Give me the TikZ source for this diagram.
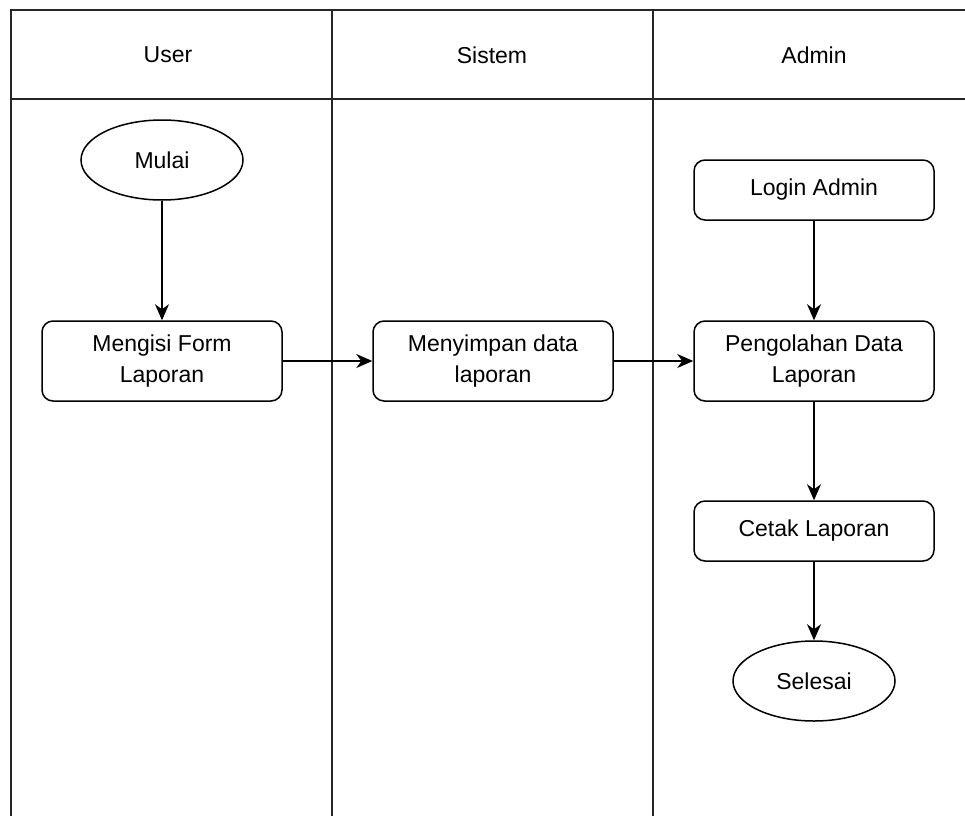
\documentclass[tikz,border=0pt]{standalone}
\usepackage{fontspec}
\setmainfont{Liberation Sans}
\usetikzlibrary{arrows.meta,shapes.geometric}
\begin{document}
\begin{tikzpicture}[x=1pt,y=-1pt,
  font=\fontsize{23}{31}\selectfont,
  lane/.style={line width=1.8pt,black!85},
  procbox/.style={draw,line width=1.5pt,rounded corners=11pt,minimum width=240pt,inner sep=0pt,align=center},
  termnode/.style={draw,ellipse,line width=1.5pt,minimum width=162pt,minimum height=80pt,inner sep=0pt},
  flow/.style={line width=1.5pt,-{Stealth[length=16pt,width=14pt,inset=5pt]}}]
\useasboundingbox (0,0) rectangle (965,816);
% swimlane frame
\draw[lane] (965,10) -- (11,10) -- (11,816);
\draw[lane] (11,99) -- (965,99);
\draw[lane] (332,10) -- (332,816);
\draw[lane] (653,10) -- (653,816);
% lane titles
\node (hUser) at (168,55) {User};
\node (hSistem) at (492,55) {Sistem};
\node (hAdmin) at (814,55) {Admin};
% steps
\node[termnode] (mulai) at (162,160) {Mulai};
\node[procbox,minimum height=80pt] (isi) at (162,361) {Mengisi Form\\Laporan};
\node[procbox,minimum height=80pt] (simpan) at (493,361) {Menyimpan data\\laporan};
\node[procbox,minimum height=60pt] (login) at (814,190) {Login Admin};
\node[procbox,minimum height=80pt] (olah) at (814,361) {Pengolahan Data\\Laporan};
\node[procbox,minimum height=60pt] (cetak) at (814,531) {Cetak Laporan};
\node[termnode] (selesai) at (814,681) {Selesai};
% connectors
\draw[flow] (mulai) -- (isi);
\draw[flow] (isi) -- (simpan);
\draw[flow] (simpan) -- (olah);
\draw[flow] (login) -- (olah);
\draw[flow] (olah) -- (cetak);
\draw[flow] (cetak) -- (selesai);
\end{tikzpicture}
\end{document}
